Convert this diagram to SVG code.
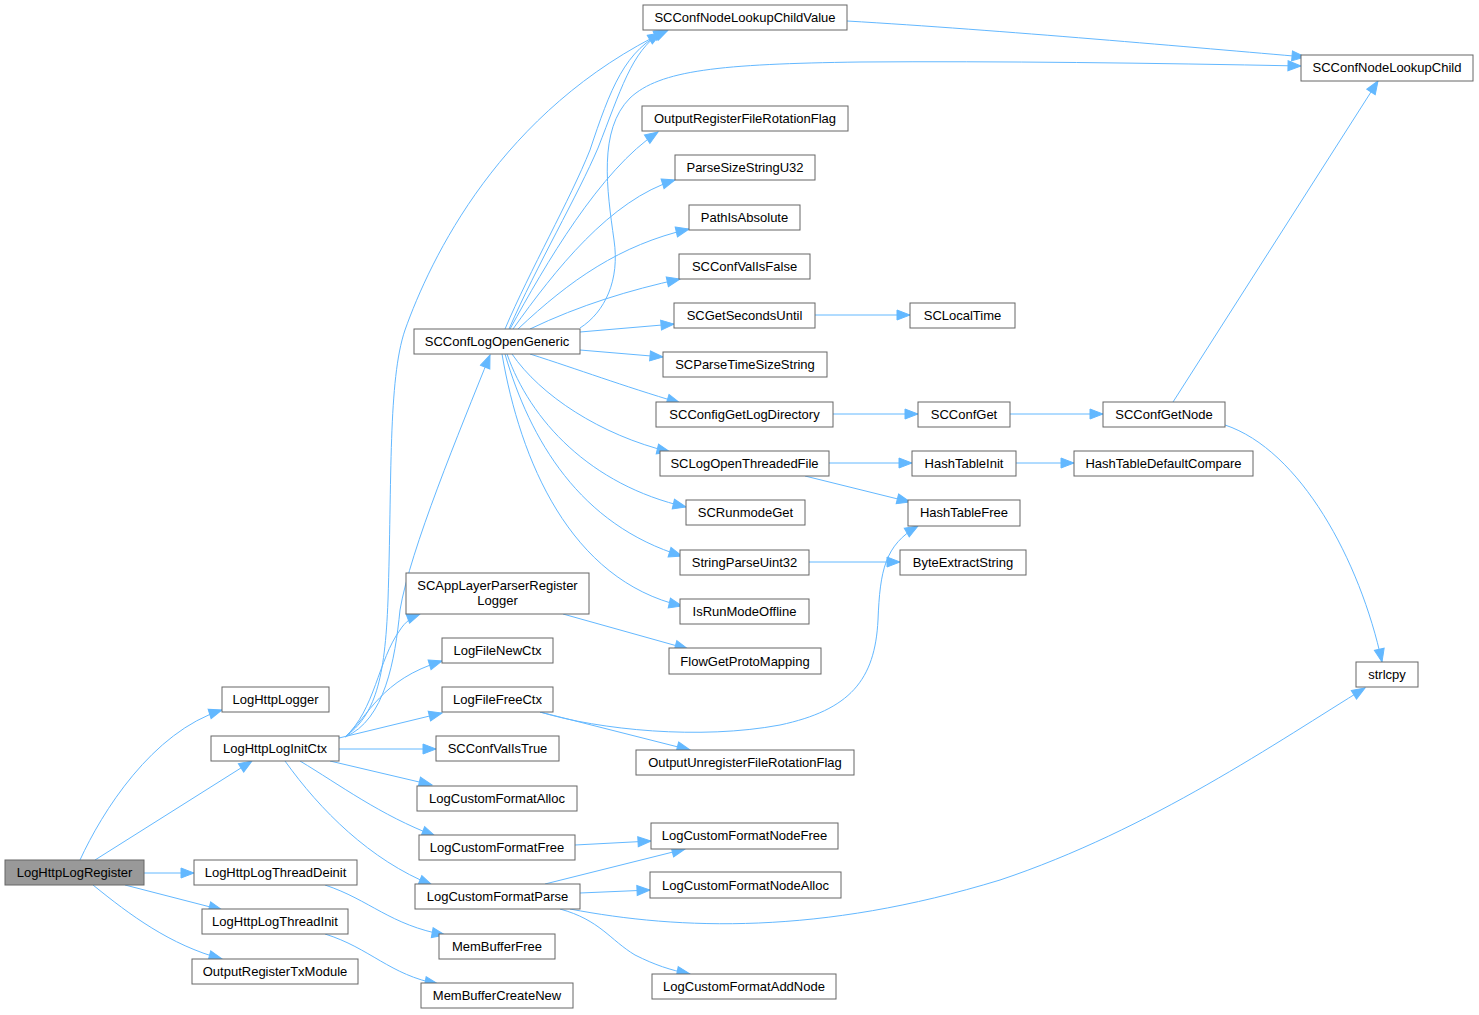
<svg xmlns="http://www.w3.org/2000/svg" width="1479" height="1015" viewBox="0 0 1479 1015">
<style>
.n rect{fill:#ffffff;stroke:#666666;stroke-width:1}
.n.root rect{fill:#999999}
.n text{font-family:"Liberation Sans",Arial,sans-serif;font-size:13px;fill:#000000;text-anchor:middle}
.e path{fill:none;stroke:#63b8ff;stroke-width:1;marker-end:url(#ah)}
</style>
<defs>
<marker id="ah" markerUnits="userSpaceOnUse" markerWidth="16" markerHeight="13" refX="14" refY="6" orient="auto" overflow="visible">
<path d="M1,1 L14,6 L1,11 z" fill="#63b8ff" stroke="#63b8ff" stroke-width="1"/>
</marker>
</defs>
<rect x="0" y="0" width="1479" height="1015" fill="#ffffff"/>
<g id="edges" class="e">
<path d="M80,860 C102,812 152,732 222,710"/>
<path d="M95,860 L252,761"/>
<path d="M144,873 L194,873"/>
<path d="M125,885 L222,910"/>
<path d="M93,885 C130,915 170,945 222,959"/>
<path d="M325,885 C370,900 390,925 445,935"/>
<path d="M325,934 C370,948 390,975 438,984"/>
<path d="M345,737 C375,715 385,680 388,600 C392,480 388,380 405,330 C430,260 500,110 668,30"/>
<path d="M345,737 C385,720 395,660 400,610 C410,550 460,430 490,355"/>
<path d="M345,737 C375,710 378,660 400,630 C405,622 412,617 420,614"/>
<path d="M345,737 C370,715 380,680 442,661"/>
<path d="M339,738 L442,713"/>
<path d="M339,749 L436,749"/>
<path d="M330,761 L432,785"/>
<path d="M300,761 C340,785 380,815 435,836"/>
<path d="M285,761 C320,810 370,860 432,885"/>
<path d="M505,329 C530,270 570,200 590,150 C610,90 625,48 667,31"/>
<path d="M509,329 C537,265 578,195 598,148 C620,92 632,50 661,33"/>
<path d="M580,328 C605,312 620,280 614,240 C607,190 598,130 630,98 C660,70 720,64 860,62 C1000,61 1150,63 1301,66"/>
<path d="M510,329 C545,265 600,170 658,132"/>
<path d="M513,329 C555,270 610,200 675,180"/>
<path d="M518,329 C570,280 620,245 689,229"/>
<path d="M530,329 C580,305 630,290 680,279"/>
<path d="M580,332 L674,324"/>
<path d="M580,350 L663,357"/>
<path d="M530,354 C580,370 620,385 680,403"/>
<path d="M512,354 C540,395 600,435 670,452"/>
<path d="M507,354 C530,420 590,485 686,507"/>
<path d="M505,354 C530,440 580,525 682,556"/>
<path d="M502,354 C520,460 570,580 682,606"/>
<path d="M815,315 L910,315"/>
<path d="M833,414 L918,414"/>
<path d="M1010,414 L1103,414"/>
<path d="M1173,402 L1378,81"/>
<path d="M1225,425 C1300,450 1360,560 1382,662"/>
<path d="M829,463 L912,463"/>
<path d="M805,476 L910,502"/>
<path d="M1016,463 L1074,463"/>
<path d="M809,562 L900,562"/>
<path d="M847,21 C1000,30 1200,48 1305,57"/>
<path d="M563,614 L688,649"/>
<path d="M540,712 C600,730 700,740 780,725 C850,710 875,680 878,620 C880,570 885,545 918,526"/>
<path d="M540,712 L690,750"/>
<path d="M575,845 L651,841"/>
<path d="M545,884 L685,849"/>
<path d="M580,893 L650,890"/>
<path d="M570,909 C680,930 820,935 1000,880 C1150,830 1280,740 1365,688"/>
<path d="M560,909 C600,920 610,940 635,955 C655,965 670,970 690,974"/>
</g>
<g id="LogHttpLogRegister" class="n root"><rect x="5" y="860" width="139" height="25"/><text x="74.5" y="877">LogHttpLogRegister</text></g>
<g id="LogHttpLogger" class="n"><rect x="222" y="687" width="107" height="25"/><text x="275.5" y="704">LogHttpLogger</text></g>
<g id="LogHttpLogInitCtx" class="n"><rect x="211" y="736" width="128" height="25"/><text x="275" y="753">LogHttpLogInitCtx</text></g>
<g id="LogHttpLogThreadDeinit" class="n"><rect x="194" y="860" width="163" height="25"/><text x="275.5" y="877">LogHttpLogThreadDeinit</text></g>
<g id="LogHttpLogThreadInit" class="n"><rect x="202" y="909" width="146" height="25"/><text x="275" y="926">LogHttpLogThreadInit</text></g>
<g id="OutputRegisterTxModule" class="n"><rect x="192" y="959" width="166" height="25"/><text x="275" y="976">OutputRegisterTxModule</text></g>
<g id="SCConfLogOpenGeneric" class="n"><rect x="414" y="329" width="166" height="25"/><text x="497" y="346">SCConfLogOpenGeneric</text></g>
<g id="SCAppLayerParserRegisterLogger" class="n"><rect x="406" y="573" width="183" height="41"/><text x="497.5" y="590">SCAppLayerParserRegister</text><text x="497.5" y="605">Logger</text></g>
<g id="LogFileNewCtx" class="n"><rect x="442" y="638" width="111" height="25"/><text x="497.5" y="655">LogFileNewCtx</text></g>
<g id="LogFileFreeCtx" class="n"><rect x="442" y="687" width="111" height="25"/><text x="497.5" y="704">LogFileFreeCtx</text></g>
<g id="SCConfValIsTrue" class="n"><rect x="436" y="736" width="123" height="25"/><text x="497.5" y="753">SCConfValIsTrue</text></g>
<g id="LogCustomFormatAlloc" class="n"><rect x="417" y="786" width="160" height="25"/><text x="497" y="803">LogCustomFormatAlloc</text></g>
<g id="LogCustomFormatFree" class="n"><rect x="419" y="835" width="156" height="25"/><text x="497" y="852">LogCustomFormatFree</text></g>
<g id="LogCustomFormatParse" class="n"><rect x="415" y="884" width="165" height="25"/><text x="497.5" y="901">LogCustomFormatParse</text></g>
<g id="MemBufferFree" class="n"><rect x="439" y="934" width="116" height="25"/><text x="497" y="951">MemBufferFree</text></g>
<g id="MemBufferCreateNew" class="n"><rect x="421" y="983" width="152" height="25"/><text x="497" y="1000">MemBufferCreateNew</text></g>
<g id="SCConfNodeLookupChildValue" class="n"><rect x="643" y="5" width="204" height="25"/><text x="745" y="22">SCConfNodeLookupChildValue</text></g>
<g id="OutputRegisterFileRotationFlag" class="n"><rect x="642" y="106" width="206" height="25"/><text x="745" y="123">OutputRegisterFileRotationFlag</text></g>
<g id="ParseSizeStringU32" class="n"><rect x="675" y="155" width="140" height="25"/><text x="745" y="172">ParseSizeStringU32</text></g>
<g id="PathIsAbsolute" class="n"><rect x="689" y="205" width="111" height="25"/><text x="744.5" y="222">PathIsAbsolute</text></g>
<g id="SCConfValIsFalse" class="n"><rect x="679" y="254" width="131" height="25"/><text x="744.5" y="271">SCConfValIsFalse</text></g>
<g id="SCGetSecondsUntil" class="n"><rect x="674" y="303" width="141" height="25"/><text x="744.5" y="320">SCGetSecondsUntil</text></g>
<g id="SCParseTimeSizeString" class="n"><rect x="663" y="352" width="164" height="25"/><text x="745" y="369">SCParseTimeSizeString</text></g>
<g id="SCConfigGetLogDirectory" class="n"><rect x="656" y="402" width="177" height="25"/><text x="744.5" y="419">SCConfigGetLogDirectory</text></g>
<g id="SCLogOpenThreadedFile" class="n"><rect x="660" y="451" width="169" height="25"/><text x="744.5" y="468">SCLogOpenThreadedFile</text></g>
<g id="SCRunmodeGet" class="n"><rect x="686" y="500" width="119" height="25"/><text x="745.5" y="517">SCRunmodeGet</text></g>
<g id="StringParseUint32" class="n"><rect x="680" y="550" width="129" height="25"/><text x="744.5" y="567">StringParseUint32</text></g>
<g id="IsRunModeOffline" class="n"><rect x="680" y="599" width="129" height="25"/><text x="744.5" y="616">IsRunModeOffline</text></g>
<g id="FlowGetProtoMapping" class="n"><rect x="669" y="648" width="152" height="26"/><text x="745" y="666">FlowGetProtoMapping</text></g>
<g id="OutputUnregisterFileRotationFlag" class="n"><rect x="636" y="750" width="218" height="25"/><text x="745" y="767">OutputUnregisterFileRotationFlag</text></g>
<g id="LogCustomFormatNodeFree" class="n"><rect x="651" y="823" width="187" height="26"/><text x="744.5" y="840">LogCustomFormatNodeFree</text></g>
<g id="LogCustomFormatNodeAlloc" class="n"><rect x="650" y="872" width="191" height="26"/><text x="745.5" y="890">LogCustomFormatNodeAlloc</text></g>
<g id="LogCustomFormatAddNode" class="n"><rect x="652" y="974" width="184" height="25"/><text x="744" y="991">LogCustomFormatAddNode</text></g>
<g id="SCLocalTime" class="n"><rect x="910" y="303" width="105" height="25"/><text x="962.5" y="320">SCLocalTime</text></g>
<g id="SCConfGet" class="n"><rect x="918" y="402" width="92" height="25"/><text x="964" y="419">SCConfGet</text></g>
<g id="HashTableInit" class="n"><rect x="912" y="451" width="104" height="25"/><text x="964" y="468">HashTableInit</text></g>
<g id="HashTableFree" class="n"><rect x="908" y="500" width="112" height="26"/><text x="964" y="517">HashTableFree</text></g>
<g id="ByteExtractString" class="n"><rect x="900" y="550" width="126" height="25"/><text x="963" y="567">ByteExtractString</text></g>
<g id="SCConfNodeLookupChild" class="n"><rect x="1301" y="55" width="172" height="26"/><text x="1387" y="72">SCConfNodeLookupChild</text></g>
<g id="SCConfGetNode" class="n"><rect x="1103" y="402" width="122" height="25"/><text x="1164" y="419">SCConfGetNode</text></g>
<g id="HashTableDefaultCompare" class="n"><rect x="1074" y="451" width="179" height="25"/><text x="1163.5" y="468">HashTableDefaultCompare</text></g>
<g id="strlcpy" class="n"><rect x="1356" y="662" width="62" height="25"/><text x="1387" y="679">strlcpy</text></g>
</svg>
